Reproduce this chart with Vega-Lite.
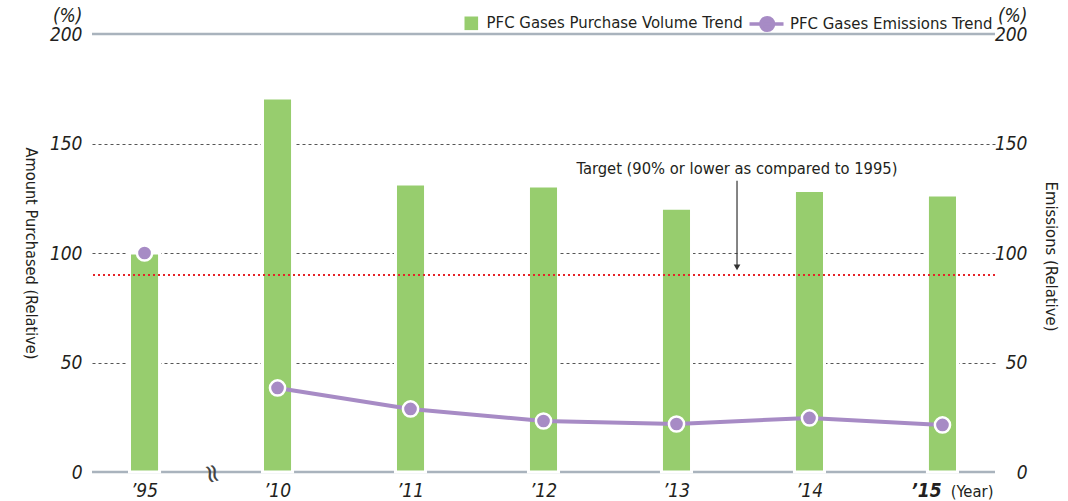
{
  "$schema": "https://vega.github.io/schema/vega-lite/v6.json",
  "width": 903,
  "height": 438,
  "autosize": {"type": "none"},
  "padding": {"left": 92, "top": 34, "right": 73, "bottom": 29},
  "background": "white",
  "config": {
    "view": {"stroke": null},
    "font": "DejaVu Sans Condensed, sans-serif",
    "axis": {"labelColor": "#231f20", "titleColor": "#231f20", "titleFontWeight": "normal", "domain": false, "ticks": false, "tickSize": 0}
  },
  "datasets": {
    "main": [
      {"year": "’95", "purchase": 100, "emissions": 100},
      {"year": "’10", "purchase": 170.8, "emissions": 38.4},
      {"year": "’11", "purchase": 131.5, "emissions": 28.8},
      {"year": "’12", "purchase": 130.6, "emissions": 23.3},
      {"year": "’13", "purchase": 120.4, "emissions": 21.9},
      {"year": "’14", "purchase": 128.5, "emissions": 24.7},
      {"year": "’15", "purchase": 126.5, "emissions": 21.5}
    ],
    "refs": [{"v": 0}, {"v": 200}],
    "target": [{"v": 90}],
    "note": [{"x": 4.455, "y": 138.4, "ytop": 133, "ybottom": 94.5, "yhead": 93.4, "label": "Target (90% or lower as compared to 1995)"}],
    "brk": [{"x": 0.508, "y": -0.8, "label": "≈"}]
  },
  "resolve": {"scale": {"x": "independent", "y": "independent"}},
  "layer": [
    {
      "data": {"name": "refs"},
      "mark": {"type": "rule", "color": "#a9b3bd", "strokeWidth": 2.5},
      "encoding": {
        "y": {"field": "v", "type": "quantitative", "scale": {"domain": [0, 200], "nice": false}, "axis": null}
      }
    },
    {
      "data": {"name": "main"},
      "mark": {"type": "bar", "stroke": "white", "strokeWidth": 3},
      "encoding": {
        "x": {
          "field": "year", "type": "nominal",
          "scale": {"type": "band", "domain": ["’95", "’10", "’11", "’12", "’13", "’14", "’15"], "paddingInner": 0.774, "paddingOuter": 0.282},
          "axis": {
            "labelAngle": 0, "labelFontSize": 19, "labelFontStyle": "italic",
            "labelBaseline": "middle", "labelPadding": 18,
            "labelFontWeight": {"condition": {"test": "datum.value == '’15'", "value": "bold"}, "value": "normal"},
            "labelOffset": {"condition": {"test": "datum.value == '’15'", "value": -16}, "value": 0},
            "title": "(Year)", "titleFontSize": 16.5, "titleX": 901, "titleY": 19,
            "titleAlign": "right", "titleBaseline": "middle", "titleAnchor": "end"
          }
        },
        "y": {
          "field": "purchase", "type": "quantitative",
          "scale": {"domain": [0, 200], "nice": false},
          "axis": {
            "orient": "left", "values": [0, 50, 100, 150, 200],
            "labelExpr": "datum.value == 200 ? ['(%)', '200'] : datum.label",
            "labelFontSize": 19, "labelFontStyle": "italic", "labelPadding": 10,
            "labelBaseline": "middle", "labelLineHeight": 19, "labelOverlap": false,
            "labelOffset": {"condition": {"test": "datum.value == 200", "value": -19}, "value": 0},
            "grid": true, "gridDash": [3, 3], "gridColor": "#555555", "gridWidth": 1,
            "gridOpacity": {"condition": {"test": "datum.value == 0 || datum.value == 200", "value": 0}, "value": 1},
            "title": "Amount Purchased (Relative)", "titleFontSize": 16.2, "titleAngle": 90,
            "titleX": -62, "titleY": 219, "titleAlign": "center", "titleBaseline": "middle"
          }
        },
        "fill": {
          "datum": "PFC Gases Purchase Volume Trend",
          "scale": {"domain": ["PFC Gases Purchase Volume Trend"], "range": ["#97cd6e"]},
          "legend": {
            "orient": "none", "legendX": 371, "legendY": -19, "direction": "horizontal",
            "title": null, "symbolSize": 185, "symbolType": "square", "symbolStrokeWidth": 0,
            "labelFontSize": 16.6, "labelColor": "#231f20",
            "labelOffset": 7, "padding": 0, "labelLimit": 0
          }
        }
      }
    },
    {
      "data": {"name": "target"},
      "mark": {"type": "rule", "color": "#e5232a", "strokeWidth": 2, "strokeDash": [2, 3]},
      "encoding": {
        "y": {"field": "v", "type": "quantitative", "scale": {"domain": [0, 200], "nice": false}, "axis": null}
      }
    },
    {
      "data": {"name": "main"},
      "transform": [{"filter": "datum.year != '’95'"}],
      "mark": {"type": "line", "strokeWidth": 4},
      "encoding": {
        "x": {
          "field": "year", "type": "nominal",
          "scale": {"type": "band", "domain": ["’95", "’10", "’11", "’12", "’13", "’14", "’15"], "paddingInner": 0.774, "paddingOuter": 0.282},
          "axis": null
        },
        "y": {
          "field": "emissions", "type": "quantitative",
          "scale": {"domain": [0, 200], "nice": false},
          "axis": {
            "orient": "right", "values": [0, 50, 100, 150, 200],
            "labelExpr": "datum.value == 200 ? ['(%)', '200'] : datum.label",
            "labelFontSize": 19, "labelFontStyle": "italic", "labelPadding": 32, "labelAlign": "right",
            "labelBaseline": "middle", "labelLineHeight": 19, "labelOverlap": false,
            "labelOffset": {"condition": {"test": "datum.value == 200", "value": -19}, "value": 0},
            "grid": false,
            "title": "Emissions (Relative)", "titleFontSize": 16.5, "titleAngle": 90,
            "titleX": 55, "titleY": 222, "titleAlign": "center", "titleBaseline": "middle"
          }
        },
        "stroke": {
          "datum": "PFC Gases Emissions Trend",
          "scale": {"domain": ["PFC Gases Emissions Trend"], "range": ["#a78bc5"]},
          "legend": {
            "orient": "none", "legendX": 673, "legendY": -19, "direction": "horizontal",
            "title": null, "symbolSize": 185,
            "symbolType": "M-3.6,0H1.4M-1.93,0A0.93,0.93 0 1,0 -0.07,0A0.93,0.93 0 1,0 -1.93,0Z",
            "symbolStrokeWidth": 3.5, "symbolFillColor": "#a78bc5", "symbolStrokeColor": "#a78bc5",
            "labelFontSize": 16.6, "labelColor": "#231f20",
            "labelOffset": 7, "padding": 0, "labelLimit": 0
          }
        }
      }
    },
    {
      "data": {"name": "main"},
      "mark": {"type": "circle", "size": 230, "fill": "#a78bc5", "stroke": "white", "strokeWidth": 2.5, "opacity": 1},
      "encoding": {
        "x": {
          "field": "year", "type": "nominal",
          "scale": {"type": "band", "domain": ["’95", "’10", "’11", "’12", "’13", "’14", "’15"], "paddingInner": 0.774, "paddingOuter": 0.282},
          "axis": null
        },
        "y": {"field": "emissions", "type": "quantitative", "scale": {"domain": [0, 200], "nice": false}, "axis": null}
      }
    },
    {
      "data": {"name": "note"},
      "mark": {"type": "text", "fontSize": 16.4, "color": "#231f20", "align": "center", "baseline": "middle"},
      "encoding": {
        "x": {"field": "x", "type": "quantitative", "scale": {"domain": [-0.3947, 6.3947], "nice": false, "zero": false}, "axis": null},
        "y": {"field": "y", "type": "quantitative", "scale": {"domain": [0, 200], "nice": false}, "axis": null},
        "text": {"field": "label"}
      }
    },
    {
      "data": {"name": "note"},
      "mark": {"type": "rule", "color": "#333333", "strokeWidth": 1.2},
      "encoding": {
        "x": {"field": "x", "type": "quantitative", "scale": {"domain": [-0.3947, 6.3947], "nice": false, "zero": false}, "axis": null},
        "y": {"field": "ytop", "type": "quantitative", "scale": {"domain": [0, 200], "nice": false}, "axis": null},
        "y2": {"field": "ybottom"}
      }
    },
    {
      "data": {"name": "note"},
      "mark": {"type": "point", "shape": "triangle-down", "filled": true, "size": 45, "color": "#333333", "opacity": 1},
      "encoding": {
        "x": {"field": "x", "type": "quantitative", "scale": {"domain": [-0.3947, 6.3947], "nice": false, "zero": false}, "axis": null},
        "y": {"field": "yhead", "type": "quantitative", "scale": {"domain": [0, 200], "nice": false}, "axis": null}
      }
    },
    {
      "data": {"name": "brk"},
      "mark": {"type": "text", "fontSize": 26, "color": "#444444", "align": "center", "baseline": "middle", "angle": 75, "font": "DejaVu Sans"},
      "encoding": {
        "x": {"field": "x", "type": "quantitative", "scale": {"domain": [-0.3947, 6.3947], "nice": false, "zero": false}, "axis": null},
        "y": {"field": "y", "type": "quantitative", "scale": {"domain": [0, 200], "nice": false}, "axis": null},
        "text": {"field": "label"}
      }
    }
  ]
}
